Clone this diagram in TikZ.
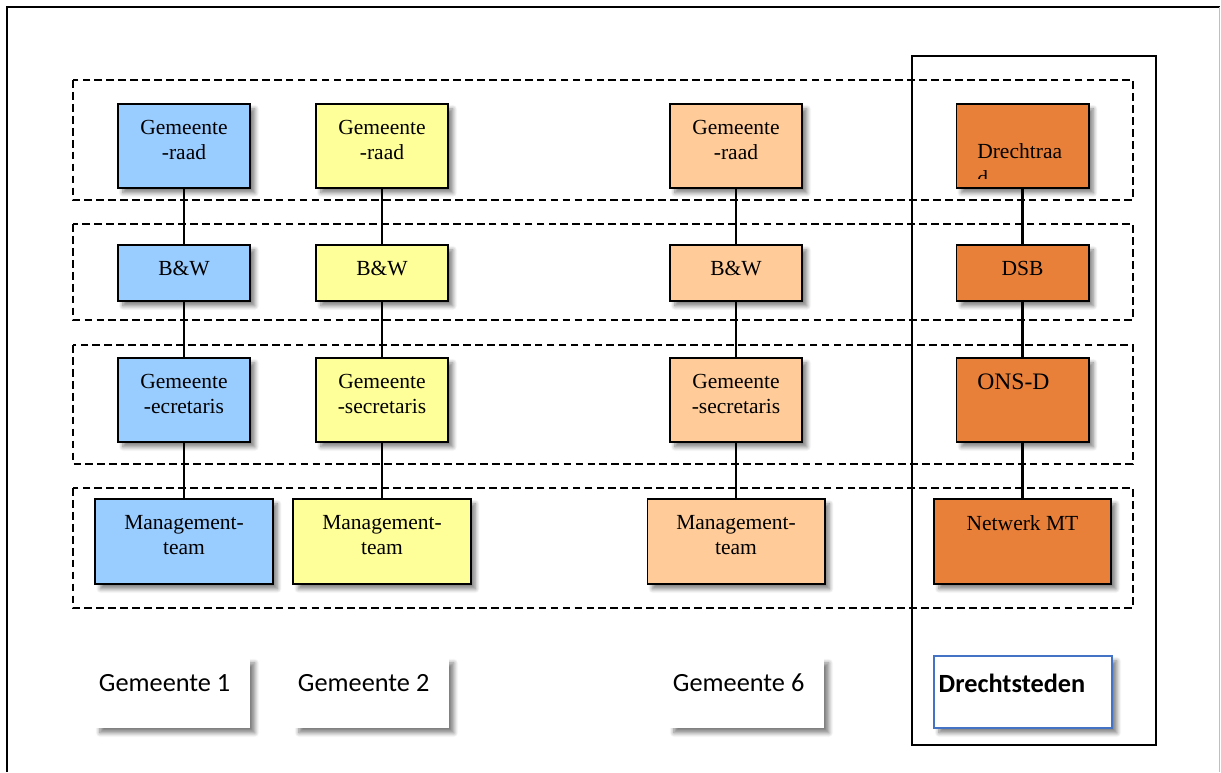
\documentclass[tikz,border=0pt]{standalone}
\usepackage{fontspec}
\setmainfont{Liberation Serif}
\newfontfamily\calibri{Carlito}
\usetikzlibrary{positioning}
\usetikzlibrary{shadows.blur}

\definecolor{gemblue}{HTML}{99CCFF}
\definecolor{gemyellow}{HTML}{FFFF99}
\definecolor{gempeach}{HTML}{FFCC99}
\definecolor{drorange}{HTML}{E8803A}
\definecolor{drblue}{HTML}{4472C4}

\tikzset{
    boxshadow/.style={blur shadow={shadow xshift=3.5pt,shadow yshift=-3.5pt,shadow blur radius=3pt,shadow blur steps=8,shadow opacity=50}},
    orgbox/.style={draw,line width=1.4pt,minimum width=3.3cm,minimum height=2.1cm,inner sep=0pt,boxshadow},
    bwbox/.style={orgbox,minimum height=1.4cm},
    mtbox/.style={orgbox,minimum width=4.425cm,minimum height=2.125cm},
    boxtext/.style={inner sep=0pt,align=center,font=\fontsize{15.3pt}{17.8pt}\selectfont},
    link/.style={line width=1.5pt},
    band/.style={line width=1.2pt,dash pattern=on 5.5pt off 3pt},
    gemlabel/.style={fill=white,minimum width=3.875cm,minimum height=1.75cm,inner sep=0pt,boxshadow},
    gemtext/.style={inner sep=0pt,font=\calibri\fontsize{18.7pt}{22pt}\selectfont}
}

\begin{document}
\begin{tikzpicture}[x=0.025cm,y=-0.025cm]
\useasboundingbox (0,0) rectangle (1221,772);

\coordinate (a1) at (184,146);
\coordinate (a2) at (382,146);
\coordinate (a6) at (736,146);
\coordinate (ad) at (1022.5,146);
\coordinate (b1) at (184,273);
\coordinate (b2) at (382,273);
\coordinate (b6) at (736,273);
\coordinate (bd) at (1022.5,273);
\coordinate (c1) at (184,400);
\coordinate (c2) at (382,400);
\coordinate (c6) at (736,400);
\coordinate (cd) at (1022.5,400);
\coordinate (d1) at (184,541.5);
\coordinate (d2) at (382,541.5);
\coordinate (d6) at (736,541.5);
\coordinate (dd) at (1022.5,541.5);

\newcommand{\orgbox}[5]{
    \node[#2,fill=#3] (#1) at (#4) {};
    \node[boxtext,below=0.42cm of #1.north] (#1text) {#5};
}

\newcommand{\oedge}[2]{
    \draw[link] (#1.south)--(#2.north);
}

\newcommand{\gemlabel}[3]{
    \node[gemlabel] (#1) at (#2) {};
    \node[gemtext,anchor=north west,below right=0.4cm and 0.1cm of #1.north west] (#1text) {#3};
}

% page frame
\draw[line width=1.5pt] (7,772)--(7,7)--(1220,7);
\draw[gray!50,line width=0.8pt] (1219.5,7)--(1219.5,772);

% Drechtsteden frame
\draw[line width=1.1pt] (912,56) rectangle (1156,745);

% layers
\draw[band] (73,80) rectangle (1133,200);
\draw[band] (73,224) rectangle (1133,320);
\draw[band] (73,345) rectangle (1133,464);
\draw[band] (73,488) rectangle (1133,608);

% gemeenten
\orgbox{raad1}{orgbox}{gemblue}{a1}{Gemeente\\-raad}
\orgbox{bw1}{bwbox}{gemblue}{b1}{B\&W}
\orgbox{secr1}{orgbox}{gemblue}{c1}{Gemeente\\-ecretaris}
\orgbox{mt1}{mtbox}{gemblue}{d1}{Management-\\team}

\orgbox{raad2}{orgbox}{gemyellow}{a2}{Gemeente\\-raad}
\orgbox{bw2}{bwbox}{gemyellow}{b2}{B\&W}
\orgbox{secr2}{orgbox}{gemyellow}{c2}{Gemeente\\-secretaris}
\orgbox{mt2}{mtbox}{gemyellow}{d2}{Management-\\team}

\orgbox{raad6}{orgbox}{gempeach}{a6}{Gemeente\\-raad}
\orgbox{bw6}{bwbox}{gempeach}{b6}{B\&W}
\orgbox{secr6}{orgbox}{gempeach}{c6}{Gemeente\\-secretaris}
\orgbox{mt6}{mtbox}{gempeach}{d6}{Management-\\team}

% Drechtsteden
\node[orgbox,fill=drorange] (drraad) at (ad) {};
\begin{scope}
    \clip (956,104) rectangle (1089,178);
    \node[boxtext,align=left,anchor=north west] (drraadtext) at (977,143) {Drechtraa\\[1.5pt]d};
\end{scope}
\orgbox{dsb}{bwbox}{drorange}{bd}{DSB}
\node[orgbox,fill=drorange] (onsd) at (cd) {};
\node[boxtext,anchor=north west,font=\fontsize{16.8pt}{20pt}\selectfont] (onsdtext) at (977,374) {ONS-D};
\orgbox{netmt}{mtbox}{drorange}{dd}{Netwerk MT}

\oedge{raad1}{bw1}\oedge{bw1}{secr1}\oedge{secr1}{mt1}
\oedge{raad2}{bw2}\oedge{bw2}{secr2}\oedge{secr2}{mt2}
\oedge{raad6}{bw6}\oedge{bw6}{secr6}\oedge{secr6}{mt6}
\oedge{drraad}{dsb}\oedge{dsb}{onsd}\oedge{onsd}{netmt}

% labels
\gemlabel{gem1}{172.5,693}{Gemeente 1}
\gemlabel{gem2}{371.5,693}{Gemeente 2}
\gemlabel{gem6}{746.5,693}{Gemeente 6}
\node[gemlabel,draw=drblue,line width=0.8pt,minimum width=4.45cm,minimum height=1.8cm] (drsteden) at (1023,692) {};
\node[gemtext,font=\calibri\bfseries\fontsize{18.7pt}{22pt}\selectfont,below right=0.45cm and 0.125cm of drsteden.north west] (drstedentext) {Drechtsteden};
\end{tikzpicture}
\end{document}
